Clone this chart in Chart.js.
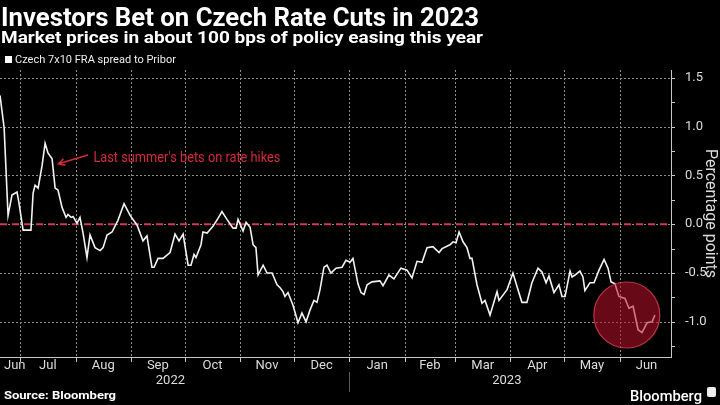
<!DOCTYPE html>
<html>
<head>
<meta charset="utf-8">
<script src="https://cdn.jsdelivr.net/npm/chart.js@4"></script>
<style>
  html, body { margin: 0; padding: 0; background: #000; }
  #wrap { position: relative; width: 720px; height: 405px; overflow: hidden; background: #000; font-family: Roboto, "Noto Sans", sans-serif; color: #fff; }
  #chart { position: absolute; left: 0; top: 0; }
  .txt { position: absolute; white-space: nowrap; transform-origin: 0 0; }
  #title { left: 1px; top: 5px; font-size: 25px; line-height: 25px; font-weight: 700; }
  #subtitle { left: 1px; top: 29px; font-size: 17px; line-height: 17px; font-weight: 700; }
  #legend { left: 5px; top: 54px; font-size: 11px; line-height: 12px; color: #eee; }
  #legend span.box { display: inline-block; width: 7px; height: 7px; background: #fff; margin-right: 3px; vertical-align: 0px; }
  #source { left: 4px; top: 389px; font-size: 11.5px; line-height: 13px; font-weight: 700; }
  #brand { left: 630px; top: 388px; font-size: 15px; line-height: 16px; font-weight: 500; }
  #icon { position: absolute; left: 707px; top: 387px; width: 9px; height: 10px; background: #eee; border-radius: 2px; }
</style>
</head>
<body>
<div id="wrap">
  <canvas id="chart" width="720" height="405"></canvas>
  <div class="txt" id="title" data-w="478">Investors Bet on Czech Rate Cuts in 2023</div>
  <div class="txt" id="subtitle" data-w="482">Market prices in about 100 bps of policy easing this year</div>
  <div class="txt" id="legend" data-w="171"><span class="box"></span>Czech 7x10 FRA spread to Pribor</div>
  <div class="txt" id="source" data-w="112">Source: Bloomberg</div>
  <div class="txt" id="brand" data-w="72">Bloomberg</div>
  <div id="icon"></div>
</div>
<script>
// days counted from 1 Jul 2022
const days = [-11.2, -8.9, -6.7, -4.5, -1.7, -0.6, 1.7, 6.1, 7.3, 8.4, 10.1, 12.3, 14.0, 15.6, 17.9, 19.6, 21.2, 23.5, 25.7, 26.8,
  28.5, 29.6, 31.8, 33.5, 35.2, 37.4, 39.1, 41.9, 44.7, 46.4, 48.6, 51.4, 54.7, 58.1, 61.5, 65.4, 68.7, 70.9, 73.7, 74.9,
  77.1, 79.9, 83.8, 86.6, 88.8, 91.1, 93.9, 95.5, 97.2, 98.3, 101.1, 102.2, 104.5, 107.8, 110.6, 112.8, 115.6, 119.0, 120.7, 121.8,
  124.6, 126.3, 128.5, 130.2, 131.8, 133.0, 135.8, 138.0, 140.8, 143.6, 145.3, 146.9, 148.0, 149.7, 152.5, 155.3, 157.5, 159.8, 162.0, 164.2,
  165.9, 167.6, 169.8, 171.5, 173.7, 176.5, 179.9, 182.1, 184.4, 186.0, 188.8, 190.5, 192.2, 193.9, 196.6, 201.1, 202.8, 206.1, 208.9, 212.8,
  216.2, 219.0, 221.8, 224.6, 227.4, 230.7, 234.1, 235.8, 240.2, 241.9, 243.6, 245.3, 247.5, 249.7, 251.4, 252.5, 255.3, 258.1, 259.8, 262.6,
  266.5, 267.6, 272.1, 275.4, 277.7, 280.4, 283.2, 286.0, 289.4, 291.6, 293.9, 295.5, 298.3, 301.1, 302.8, 304.5, 307.3, 308.4, 310.1, 312.8,
  314.5, 315.6, 318.4, 320.7, 323.5, 326.3, 328.5, 330.2, 332.4, 334.6, 338.0, 340.2, 342.5, 345.3, 347.5, 350.3, 353.1, 354.7];
const spread = [1.32, 0.99, 0.09, 0.30, 0.33, 0.22, -0.06, -0.06, 0.32, 0.40, 0.37, 0.60, 0.83, 0.73, 0.67, 0.37, 0.35, 0.17, 0.07, 0.10,
  0.07, 0.08, 0.01, 0.07, -0.09, -0.34, -0.11, -0.24, -0.27, -0.24, -0.11, -0.08, 0.04, 0.21, 0.09, -0.01, -0.17, -0.12, -0.44, -0.44,
  -0.35, -0.35, -0.29, -0.10, -0.17, -0.10, -0.42, -0.42, -0.31, -0.34, -0.21, -0.08, -0.09, -0.02, 0.06, 0.13, 0.05, -0.04, -0.04, 0.05,
  -0.07, 0.02, -0.03, -0.21, -0.24, -0.52, -0.42, -0.50, -0.50, -0.62, -0.65, -0.69, -0.74, -0.70, -0.83, -1.01, -0.91, -1.00, -0.88, -0.78,
  -0.80, -0.67, -0.44, -0.42, -0.50, -0.45, -0.44, -0.37, -0.39, -0.35, -0.61, -0.70, -0.72, -0.62, -0.59, -0.58, -0.63, -0.52, -0.56, -0.45,
  -0.47, -0.55, -0.38, -0.39, -0.24, -0.23, -0.29, -0.25, -0.21, -0.18, -0.19, -0.08, -0.18, -0.24, -0.35, -0.35, -0.62, -0.81, -0.78, -0.93,
  -0.69, -0.78, -0.67, -0.50, -0.64, -0.80, -0.80, -0.60, -0.45, -0.49, -0.60, -0.53, -0.70, -0.62, -0.74, -0.74, -0.48, -0.54, -0.52, -0.48,
  -0.54, -0.68, -0.60, -0.60, -0.47, -0.36, -0.45, -0.59, -0.61, -0.74, -0.76, -0.86, -0.84, -1.08, -1.11, -1.01, -1.00, -0.93];

const monthStarts = [0, 31, 62, 92, 123, 153, 184, 215, 243, 274, 304, 335];
const monthLabels = ['Jun', 'Jul', 'Aug', 'Sep', 'Oct', 'Nov', 'Dec', 'Jan', 'Feb', 'Mar', 'Apr', 'May', 'Jun'];
const monthMids = [-15, 15.5, 46.5, 77, 107.5, 138, 168.5, 199.5, 229, 258.5, 289, 319.5, 350];
const yearLabels = ['2022', '2023'];
const yearMids = [84, 272];
const yearSplit = 184;
const yTicks = [-1.25, -1, -0.75, -0.5, -0.25, 0, 0.25, 0.5, 0.75, 1, 1.25, 1.5];

const zeroLine = 0;
const noteText = "Last summer's bets on rate hikes";
const noteArrowFrom = [38, 0.71];
const noteArrowTo = [21.5, 0.62];
const noteTextAt = [41, 0.68];
const highlightAt = [339, -0.93];

const RED = '#d8283f';
const DASH_RED = '#cf3a57';
const GRID = '#8c8c8c';
const AXIS = '#c8c8c8';
const LABEL = '#dcdcdc';

// fit html texts to measured widths
document.querySelectorAll('.txt').forEach(function(el) {
  const target = parseFloat(el.dataset.w);
  const w = el.getBoundingClientRect().width;
  if (w > 0) el.style.transform = 'scaleX(' + (target / w) + ')';
});

const isMajor = v => Math.abs(v * 2 - Math.round(v * 2)) < 1e-6;

const extras = {
  id: 'extras',
  beforeDatasetsDraw(chart) {
    const { ctx, chartArea, scales } = chart;
    const x = scales.x, y = scales.y;
    ctx.save();
    // dotted grid + tick marks from the scales' ticks
    ctx.lineWidth = 1;
    x.ticks.forEach(function(t) {
      const px = Math.round(x.getPixelForValue(t.value)) + 0.5;
      ctx.strokeStyle = GRID;
      ctx.setLineDash([2, 2]);
      ctx.beginPath();
      ctx.moveTo(px, chartArea.top);
      ctx.lineTo(px, chartArea.bottom);
      ctx.stroke();
      ctx.strokeStyle = AXIS;
      ctx.setLineDash([]);
      ctx.beginPath();
      ctx.moveTo(px, chartArea.bottom);
      ctx.lineTo(px, chartArea.bottom + 5);
      ctx.stroke();
    });
    y.ticks.forEach(function(t) {
      const py = Math.round(y.getPixelForValue(t.value)) + 0.5;
      if (isMajor(t.value)) {
        ctx.strokeStyle = GRID;
        ctx.setLineDash([2, 2]);
        ctx.beginPath();
        ctx.moveTo(chartArea.left, py);
        ctx.lineTo(chartArea.right, py);
        ctx.stroke();
      }
      ctx.strokeStyle = AXIS;
      ctx.setLineDash([]);
      ctx.beginPath();
      ctx.moveTo(chartArea.right, py);
      ctx.lineTo(chartArea.right + 4, py);
      ctx.stroke();
    });
    // zero line
    const y0 = y.getPixelForValue(zeroLine);
    ctx.strokeStyle = DASH_RED;
    ctx.lineWidth = 2;
    ctx.setLineDash([7, 5]);
    ctx.beginPath();
    ctx.moveTo(chartArea.left, y0);
    ctx.lineTo(chartArea.right, y0);
    ctx.stroke();
    ctx.restore();
  },
  afterDatasetsDraw(chart) {
    const { ctx, scales } = chart;
    const x = scales.x, y = scales.y;
    // highlight circle
    ctx.save();
    const cx = x.getPixelForValue(highlightAt[0]);
    const cy = y.getPixelForValue(highlightAt[1]);
    ctx.beginPath();
    ctx.arc(cx, cy, 33, 0, Math.PI * 2);
    ctx.fillStyle = 'rgba(190, 16, 42, 0.55)';
    ctx.fill();
    ctx.strokeStyle = 'rgba(215, 60, 80, 0.85)';
    ctx.lineWidth = 1.2;
    ctx.stroke();
    ctx.restore();

    // annotation arrow + text
    ctx.save();
    const ax1 = x.getPixelForValue(noteArrowFrom[0]), ay1 = y.getPixelForValue(noteArrowFrom[1]);
    const ax2 = x.getPixelForValue(noteArrowTo[0]), ay2 = y.getPixelForValue(noteArrowTo[1]);
    ctx.strokeStyle = RED;
    ctx.lineWidth = 1.5;
    ctx.beginPath();
    ctx.moveTo(ax1, ay1);
    ctx.lineTo(ax2, ay2);
    const ang = Math.atan2(ay2 - ay1, ax2 - ax1);
    ctx.moveTo(ax2 - 7 * Math.cos(ang - 0.5), ay2 - 7 * Math.sin(ang - 0.5));
    ctx.lineTo(ax2, ay2);
    ctx.lineTo(ax2 - 7 * Math.cos(ang + 0.5), ay2 - 7 * Math.sin(ang + 0.5));
    ctx.stroke();
    ctx.fillStyle = RED;
    ctx.font = '15px Roboto, "Noto Sans", sans-serif';
    ctx.textBaseline = 'middle';
    ctx.textAlign = 'left';
    const tx = x.getPixelForValue(noteTextAt[0]);
    const ty = y.getPixelForValue(noteTextAt[1]);
    const tw = ctx.measureText(noteText).width;
    ctx.translate(tx, ty);
    ctx.scale(187 / tw, 1);
    ctx.fillText(noteText, 0, 0);
    ctx.restore();
  },
  afterDraw(chart) {
    const { ctx, chartArea, scales } = chart;
    const x = scales.x;
    ctx.save();
    ctx.fillStyle = LABEL;
    ctx.font = '13px Roboto, "Noto Sans", sans-serif';
    ctx.textAlign = 'center';
    ctx.textBaseline = 'middle';
    monthLabels.forEach(function(m, i) {
      let px = x.getPixelForValue(monthMids[i]);
      const w = ctx.measureText(m).width;
      px = Math.max(px, chartArea.left + 4 + w / 2);
      ctx.fillText(m, px, 366);
    });
    yearLabels.forEach(function(t, i) {
      ctx.fillText(t, x.getPixelForValue(yearMids[i]), 381);
    });
    const sx = Math.round(x.getPixelForValue(yearSplit)) + 0.5;
    ctx.strokeStyle = '#5a5a5a';
    ctx.lineWidth = 1;
    ctx.beginPath();
    ctx.moveTo(sx, 372);
    ctx.lineTo(sx, 392);
    ctx.stroke();
    ctx.restore();
  }
};

new Chart(document.getElementById('chart'), {
  type: 'line',
  data: {
    datasets: [{
      label: 'Czech 7x10 FRA spread to Pribor',
      data: days.map((d, i) => ({ x: d, y: spread[i] })),
      borderColor: '#f2f2f2',
      borderWidth: 1.6,
      pointRadius: 0,
      tension: 0,
      fill: false
    }]
  },
  options: {
    responsive: false,
    animation: false,
    devicePixelRatio: 1,
    layout: { padding: { top: 70, left: 0, right: 0, bottom: 0 } },
    plugins: { legend: { display: false }, tooltip: { enabled: false } },
    scales: {
      x: {
        type: 'linear',
        min: -11.2,
        max: 363.7,
        afterBuildTicks: s => { s.ticks = monthStarts.map(v => ({ value: v })); },
        afterFit: s => { s.height = 48; },
        grid: { display: false },
        border: { display: true, color: AXIS },
        ticks: { display: false }
      },
      y: {
        position: 'right',
        min: -1.36,
        max: 1.58,
        afterBuildTicks: s => { s.ticks = yTicks.map(v => ({ value: v })); },
        afterFit: s => { s.width = 49; },
        grid: { display: false },
        border: { display: true, color: AXIS },
        ticks: {
          color: LABEL,
          font: { size: 13, family: 'Roboto, "Noto Sans", sans-serif' },
          padding: 6,
          callback: v => isMajor(v) ? v.toFixed(1) : ''
        },
        title: {
          display: true,
          text: 'Percentage points',
          color: LABEL,
          font: { size: 16, family: 'Roboto, "Noto Sans", sans-serif' },
          padding: { top: 0, bottom: 1 }
        }
      }
    }
  },
  plugins: [extras]
});
</script>
</body>
</html>
